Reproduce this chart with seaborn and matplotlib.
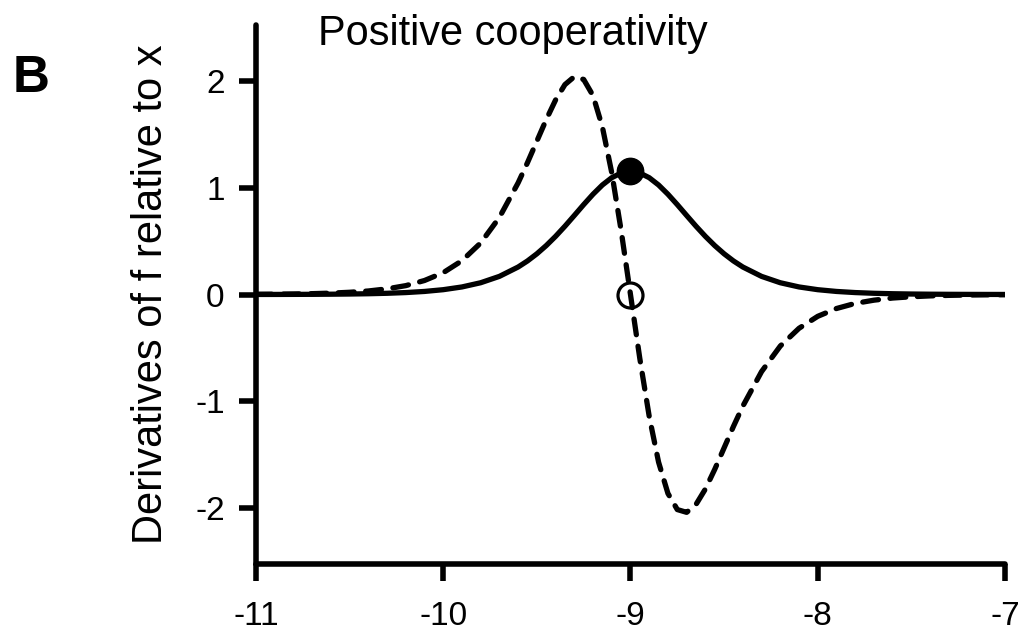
import matplotlib
matplotlib.use("Agg")
import matplotlib.pyplot as plt
import seaborn as sns
import pandas as pd

# =============================================================================
# Data
# =============================================================================

log_conc = [-11.0, -10.9, -10.8, -10.7, -10.6, -10.5, -10.4, -10.3, -10.2, -10.1,
            -10.0, -9.9, -9.8, -9.7,
            -9.6, -9.55, -9.5, -9.45, -9.4, -9.35, -9.3, -9.25, -9.2, -9.15,
            -9.1, -9.05, -9.0, -8.95, -8.9, -8.85, -8.8, -8.75, -8.7, -8.65,
            -8.6, -8.55, -8.5, -8.45, -8.4,
            -8.3, -8.2, -8.1, -8.0, -7.9, -7.8, -7.7, -7.6, -7.5, -7.4,
            -7.3, -7.2, -7.1, -7.0]

# first derivative (solid line)
first_deriv = [0.0005, 0.0007, 0.0012, 0.0018, 0.0029, 0.0046, 0.0073, 0.0115, 0.0182, 0.0287,
               0.0451, 0.0707, 0.1101, 0.1696,
               0.2571, 0.3139, 0.3806, 0.4574, 0.5438, 0.6386, 0.7389, 0.8406, 0.9378, 1.0242,
               1.0924, 1.1362, 1.1513, 1.1362, 1.0924, 1.0242, 0.9378, 0.8406, 0.7389, 0.6386,
               0.5438, 0.4574, 0.3806, 0.3139, 0.2571,
               0.1696, 0.1101, 0.0707, 0.0451, 0.0287, 0.0182, 0.0115, 0.0073, 0.0046, 0.0029,
               0.0018, 0.0012, 0.0007, 0.0005]

# second derivative (dashed line)
second_deriv = [0.002, 0.003, 0.005, 0.008, 0.013, 0.021, 0.033, 0.053, 0.083, 0.131,
                0.204, 0.316, 0.482, 0.721,
                1.044, 1.233, 1.434, 1.635, 1.819, 1.963, 2.037, 2.011, 1.860, 1.567,
                1.139, 0.600, 0.0, -0.600, -1.139, -1.567, -1.860, -2.011, -2.037, -1.963,
                -1.819, -1.635, -1.434, -1.233, -1.044,
                -0.721, -0.482, -0.316, -0.204, -0.131, -0.083, -0.053, -0.033, -0.021, -0.013,
                -0.008, -0.005, -0.003, -0.002]

# marked points (EC50)
peak_x = [-9.0]
peak_y = [1.1513]
zero_x = [-9.0]
zero_y = [0.0]

x_ticks = [-11, -10, -9, -8, -7]
y_ticks = [-2, -1, 0, 1, 2]

df = pd.DataFrame({'x': log_conc, 'first': first_deriv, 'second': second_deriv})

# =============================================================================
# Plot
# =============================================================================

sns.set_theme(style='ticks')
plt.rcParams['font.family'] = ['Liberation Sans', 'DejaVu Sans']
plt.rcParams['axes.unicode_minus'] = False
for k in ['text.color', 'axes.labelcolor', 'xtick.color', 'ytick.color', 'axes.edgecolor']:
    plt.rcParams[k] = 'black'

fig = plt.figure(figsize=(10.23, 6.32), dpi=100)
ax = fig.add_axes([0.2502, 0.1076, 0.7322, 0.8528])

sns.lineplot(data=df, x='x', y='first', color='black', linewidth=3.8, ax=ax)
sns.lineplot(data=df, x='x', y='second', color='black', linewidth=3.8, ax=ax)
ax.lines[1].set_dashes([3.0, 2.2])
ax.lines[1].set_dash_capstyle('round')
ax.lines[0].set_solid_capstyle('round')

ax.plot(zero_x, zero_y, 'o', markersize=18, markerfacecolor='none',
        markeredgecolor='black', markeredgewidth=2.3, zorder=5)
ax.plot(peak_x, peak_y, 'o', markersize=19, color='black', zorder=5)

ax.set_xlim(-11, -7)
ax.set_ylim(-2.52, 2.52)
ax.set_xticks(x_ticks)
ax.set_yticks(y_ticks)
ax.set_xticklabels([str(t) for t in x_ticks])
ax.set_yticklabels([str(t) for t in y_ticks])

sns.despine(ax=ax)
for s in ['left', 'bottom']:
    ax.spines[s].set_linewidth(4)
    ax.spines[s].set_capstyle('round')
ax.tick_params(axis='both', length=12.5, width=4, direction='out', labelsize=24)
ax.tick_params(axis='x', pad=14)
ax.tick_params(axis='y', pad=10)

ax.set_xlabel('')
ax.set_ylabel('Derivatives of f relative to x', fontsize=30)
ax.yaxis.set_label_coords(-0.113, 0.5)

ax.text(0.083, 0.963, 'Positive cooperativity', transform=ax.transAxes,
        fontsize=29.9, ha='left', va='baseline')
fig.text(13 / 1023, 1 - 92 / 632, 'B', fontsize=37, fontweight='bold',
         ha='left', va='baseline')

plt.savefig('out.png', dpi=100)
